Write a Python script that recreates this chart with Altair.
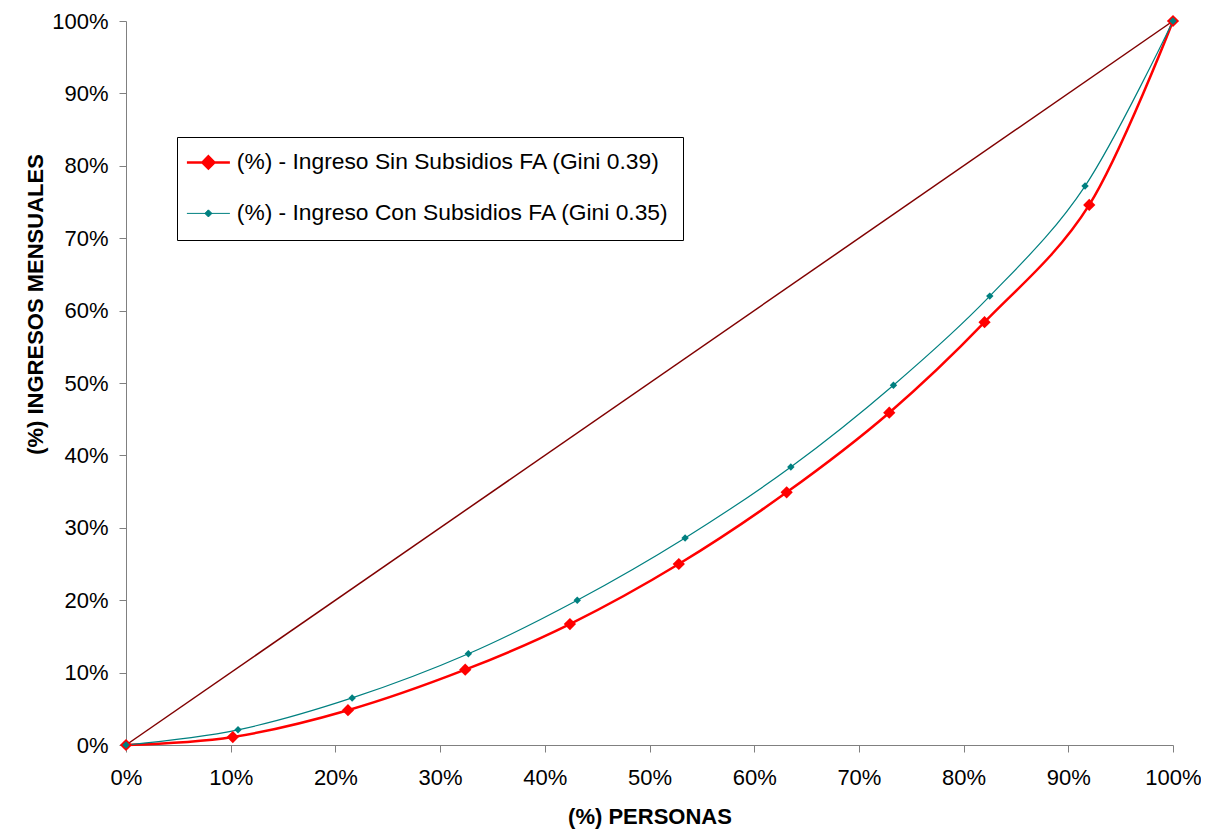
import altair as alt
import pandas as pd

SIN = "(%) - Ingreso Sin Subsidios FA (Gini 0.39)"
CON = "(%) - Ingreso Con Subsidios FA (Gini 0.35)"

sin_x = [0.0, 0.102, 0.212, 0.324, 0.424, 0.528, 0.631, 0.729, 0.820, 0.920, 1.0]
sin_y = [0.0, 0.011, 0.048, 0.104, 0.167, 0.250, 0.349, 0.459, 0.584, 0.746, 1.0]
con_x = [0.0, 0.107, 0.216, 0.327, 0.431, 0.534, 0.635, 0.733, 0.825, 0.916, 1.0]
con_y = [0.0, 0.021, 0.065, 0.126, 0.200, 0.286, 0.384, 0.497, 0.620, 0.772, 1.0]
diag_x = [0.0, 1.0]
diag_y = [0.0, 1.0]

df = pd.concat([
    pd.DataFrame({"x": sin_x, "y": sin_y, "serie": SIN, "ord": range(len(sin_x))}),
    pd.DataFrame({"x": con_x, "y": con_y, "serie": CON, "ord": range(len(con_x))}),
], ignore_index=True)
diag = pd.DataFrame({"x": diag_x, "y": diag_y})

FONT = "Liberation Sans"
xs = alt.Scale(domain=[0, 1], nice=False)
ys = alt.Scale(domain=[0, 1], nice=False)
cscale = alt.Scale(domain=[SIN, CON], range=["#ff0000", "#008080"])

x_axis = alt.Axis(format=".0%", values=[i / 10 for i in range(11)], grid=False,
                  domainColor="#808080", tickColor="#808080", tickSize=7, labelFlush=False,
                  labelFont=FONT, labelFontSize=22, labelColor="#000000", labelPadding=15,
                  title="(%) PERSONAS", titleFont=FONT, titleFontSize=22, titleFontWeight="bold",
                  titleColor="#000000", titleBaseline="alphabetic", titleY=78)
y_axis = alt.Axis(format=".0%", values=[i / 10 for i in range(11)], grid=False,
                  domainColor="#808080", tickColor="#808080", tickSize=7, labelFlush=False,
                  labelFont=FONT, labelFontSize=22, labelColor="#000000", labelPadding=11,
                  title="(%) INGRESOS MENSUALES", titleFont=FONT, titleFontSize=22,
                  titleFontWeight="bold", titleColor="#000000", titleBaseline="alphabetic",
                  titleX=-84, titleY=283, titleAngle=270)

diag_layer = alt.Chart(diag).mark_line(color="#800000", strokeWidth=1.5).encode(
    x=alt.X("x:Q", scale=xs, axis=x_axis),
    y=alt.Y("y:Q", scale=ys, axis=y_axis),
)

red_path = "M-2,0L2,0M0,-0.56L0.56,0L0,0.56L-0.56,0Z"
teal_path = "M-2,0L2,0M0,-0.33L0.33,0L0,0.33L-0.33,0Z"

legend = alt.Legend(
    title=None, orient="none", legendX=51, legendY=116,
    strokeColor="#000000", fillColor="#ffffff", padding=14, rowPadding=27,
    labelFont=FONT, labelFontSize=22.8, labelColor="#000000", labelLimit=0,
    labelOffset=17,
    symbolSize=462, symbolOffset=6,
    symbolType=alt.ExprRef(expr=f"datum.index == 0 ? '{red_path}' : '{teal_path}'"),
    symbolStrokeWidth=alt.ExprRef(expr="datum.index == 0 ? 2.5 : 1"),
    symbolFillColor=alt.ExprRef(expr="datum.index == 0 ? '#ff0000' : '#008080'"),
    symbolStrokeColor=alt.ExprRef(expr="datum.index == 0 ? '#ff0000' : '#008080'"),
)

lines = alt.Chart(df).mark_line(interpolate="cardinal").encode(
    x=alt.X("x:Q", scale=xs),
    y=alt.Y("y:Q", scale=ys),
    color=alt.Color("serie:N", scale=cscale, legend=legend),
    strokeWidth=alt.condition(alt.datum.serie == SIN, alt.value(2.5), alt.value(1.2)),
    order="ord:Q",
)

points = alt.Chart(df).mark_point(shape="diamond", filled=True, opacity=1).encode(
    x=alt.X("x:Q", scale=xs),
    y=alt.Y("y:Q", scale=ys),
    color=alt.Color("serie:N", scale=cscale, legend=None),
    size=alt.condition(alt.datum.serie == SIN, alt.value(150), alt.value(55)),
)

chart = alt.layer(diag_layer, lines, points).resolve_legend(color="independent").properties(
    width=1047, height=724,
    autosize=alt.AutoSizeParams(type="none"),
    padding={"left": 118, "top": 13, "right": 28, "bottom": 92},
    background="#ffffff",
).configure_view(stroke=None)

chart.save("out.html", embed_options={"renderer": "svg", "actions": False})
